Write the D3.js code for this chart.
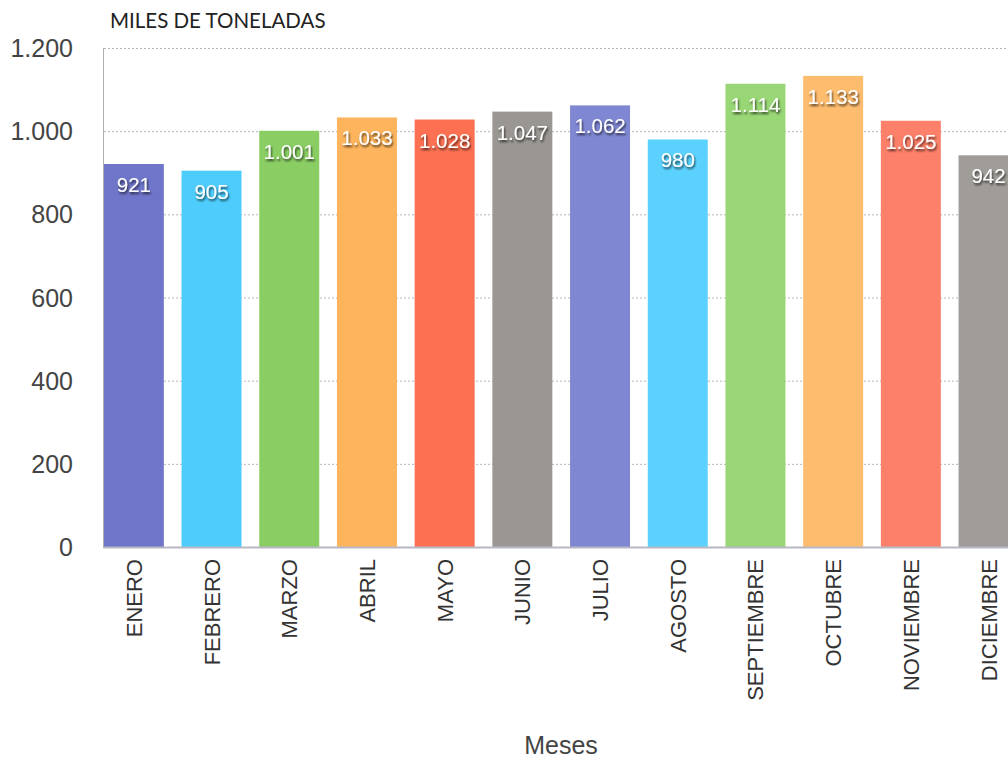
<!DOCTYPE html>
<html>
<head>
<meta charset="utf-8">
<script src="https://cdn.jsdelivr.net/npm/d3@7"></script>
<style>
  body { margin: 0; background: #fff; }
  svg { display: block; }
</style>
</head>
<body>
<svg id="chart" width="1008" height="760"></svg>
<script>

var meses = ['ENERO', 'FEBRERO', 'MARZO', 'ABRIL', 'MAYO', 'JUNIO', 'JULIO',
             'AGOSTO', 'SEPTIEMBRE', 'OCTUBRE', 'NOVIEMBRE', 'DICIEMBRE'];
var toneladas = [921, 905, 1001, 1033, 1028, 1047, 1062, 980, 1114, 1133, 1025, 942];
var colores = ['#6f76c9', '#4ecdfd', '#89cd63', '#fdb45d', '#fd7152', '#9a9692',
               '#7f87d3', '#5bd2fd', '#99d676', '#fdbc6e', '#fd816a', '#a09c98'];
var yTicks = [0, 200, 400, 600, 800, 1000, 1200];

var svg = d3.select('#chart');

var fmt = function(v){
  return d3.format(',')(v).replace(/,/g, '.');
};

var x = d3.scaleBand()
  .domain(meses)
  .range([95, 1027.4])
  .paddingInner(0.228)
  .paddingOuter(0.114);

var y = d3.scaleLinear()
  .domain([0, 1200])
  .range([547, 48]);

// grid
svg.append('g').selectAll('line')
  .data(yTicks.filter(function(d){ return d > 0; }))
  .enter().append('line')
  .attr('x1', 104).attr('x2', 1008)
  .attr('y1', function(d){ return y(d) + 0.5; })
  .attr('y2', function(d){ return y(d) + 0.5; })
  .attr('stroke', '#b5b5b5')
  .attr('stroke-dasharray', '2,2');

// bars
svg.append('g').selectAll('rect')
  .data(toneladas)
  .enter().append('rect')
  .attr('x', function(d, i){ return x(meses[i]); })
  .attr('y', function(d){ return y(d); })
  .attr('width', x.bandwidth())
  .attr('height', function(d){ return y(0) - y(d); })
  .attr('fill', function(d, i){ return colores[i]; });

// axes lines
svg.append('line')
  .attr('x1', 103.5).attr('x2', 103.5)
  .attr('y1', 48).attr('y2', 548)
  .attr('stroke', '#b0b0b0');
svg.append('line')
  .attr('x1', 103).attr('x2', 1008)
  .attr('y1', 547.5).attr('y2', 547.5)
  .attr('stroke', '#b8b8c4').attr('stroke-width', 2);

// y tick labels
svg.append('g').selectAll('text')
  .data(yTicks)
  .enter().append('text')
  .attr('x', 73)
  .attr('y', function(d){ return y(d) + 9; })
  .attr('text-anchor', 'end')
  .attr('font-family', 'Liberation Sans, Arial, sans-serif')
  .attr('font-size', 25)
  .attr('fill', '#444')
  .text(fmt);

// shadow filter
var f = svg.append('defs').append('filter').attr('id', 'sombra')
  .attr('x', '-20%').attr('y', '-20%').attr('width', '140%').attr('height', '160%');
f.append('feDropShadow')
  .attr('dx', 1).attr('dy', 2).attr('stdDeviation', 1.2)
  .attr('flood-color', '#000').attr('flood-opacity', 0.7);

// value labels
svg.append('g').selectAll('text')
  .data(toneladas)
  .enter().append('text')
  .attr('x', function(d, i){ return x(meses[i]) + x.bandwidth() / 2; })
  .attr('y', function(d){ return y(d) + 28; })
  .attr('text-anchor', 'middle')
  .attr('font-family', 'Liberation Sans, Arial, sans-serif')
  .attr('font-size', 20.5)
  .attr('fill', '#fff')
  .attr('filter', 'url(#sombra)')
  .text(fmt);

// month labels
svg.append('g').selectAll('text')
  .data(meses)
  .enter().append('text')
  .attr('transform', function(d){
    return 'translate(' + (x(d) + x.bandwidth() / 2 + 8) + ',559) rotate(-90)';
  })
  .attr('text-anchor', 'end')
  .attr('font-family', 'Liberation Sans, Arial, sans-serif')
  .attr('font-size', 22)
  .attr('fill', '#333')
  .text(function(d){ return d; });

// titles
svg.append('text')
  .attr('x', 110).attr('y', 28)
  .attr('font-family', 'Lato, sans-serif')
  .attr('font-size', 20.5)
  .attr('fill', '#222')
  .text('MILES DE TONELADAS');

svg.append('text')
  .attr('x', 561).attr('y', 754)
  .attr('text-anchor', 'middle')
  .attr('font-family', 'Liberation Sans, Arial, sans-serif')
  .attr('font-size', 25)
  .attr('fill', '#444')
  .text('Meses');

</script>
</body>
</html>
